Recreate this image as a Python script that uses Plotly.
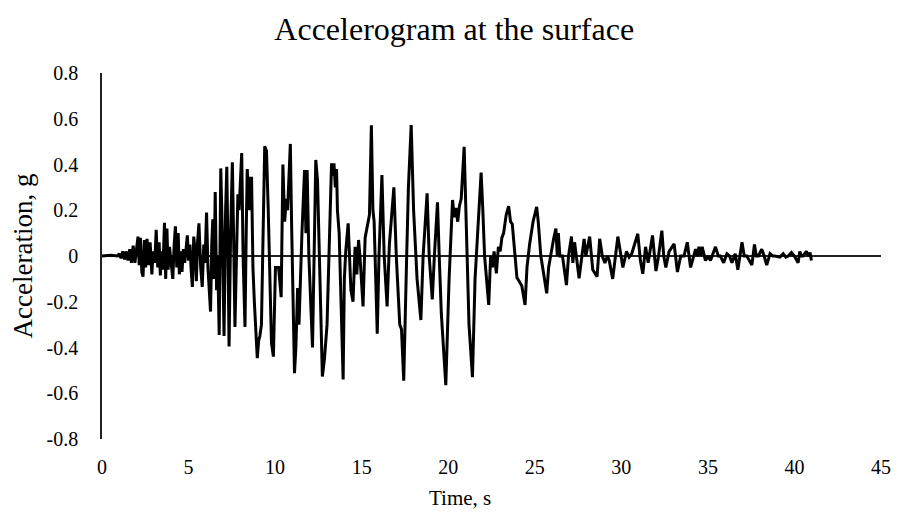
import plotly.graph_objects as go

# Surface acceleration record (time in s, acceleration in g)
time_s = [
    0.0, 0.5, 0.9, 1.0, 1.1, 1.2, 1.3, 1.4, 1.5, 1.6, 1.7, 1.8, 1.9, 2.0, 2.08, 2.15, 2.22, 2.3, 2.37, 2.45,
    2.52, 2.6, 2.7, 2.78, 2.88, 2.95, 3.05, 3.13, 3.22, 3.3, 3.37, 3.45, 3.52, 3.61, 3.68, 3.75, 3.82, 3.9,
    4.0, 4.09, 4.17, 4.24, 4.32, 4.4, 4.47, 4.55, 4.62, 4.7, 4.78, 4.86, 4.93, 5.0, 5.08, 5.15, 5.22, 5.3,
    5.38, 5.45, 5.52, 5.6, 5.7, 5.79, 5.88, 5.95, 6.04, 6.12, 6.2, 6.27, 6.34, 6.4, 6.47, 6.54, 6.62, 6.68,
    6.77, 6.86, 6.95, 7.05, 7.14, 7.21, 7.28, 7.34, 7.43, 7.53, 7.6, 7.68, 7.77, 7.85, 7.92, 8.07, 8.15,
    8.26, 8.33, 8.39, 8.5, 8.57, 8.64, 8.72, 8.8, 8.97, 9.05, 9.12, 9.21, 9.3, 9.4, 9.5, 9.6, 9.79, 9.9,
    10.02, 10.2, 10.35, 10.45, 10.55, 10.65, 10.72, 10.88, 10.95, 11.12, 11.2, 11.3, 11.38, 11.45, 11.55,
    11.7, 11.78, 11.85, 11.95, 12.16, 12.35, 12.45, 12.73, 12.85, 13.0, 13.26, 13.33, 13.4, 13.48, 13.55,
    13.6, 13.7, 13.8, 13.93, 14.0, 14.08, 14.22, 14.3, 14.38, 14.5, 14.62, 14.72, 14.82, 14.9, 15.08, 15.2,
    15.35, 15.45, 15.56, 15.65, 15.72, 15.9, 16.0, 16.17, 16.3, 16.47, 16.6, 16.86, 17.0, 17.2, 17.3, 17.43,
    17.6, 17.7, 17.86, 17.95, 18.0, 18.2, 18.42, 18.55, 18.78, 18.9, 19.08, 19.2, 19.38, 19.48, 19.6, 19.86,
    19.95, 20.05, 20.25, 20.35, 20.45, 20.55, 20.65, 20.75, 20.92, 21.05, 21.2, 21.4, 21.55, 21.7, 21.9,
    22.0, 22.1, 22.34, 22.45, 22.55, 22.65, 22.78, 22.9, 23.0, 23.1, 23.2, 23.35, 23.49, 23.6, 23.7, 23.85,
    23.97, 24.1, 24.25, 24.44, 24.55, 24.7, 24.9, 25.11, 25.2, 25.35, 25.5, 25.69, 25.8, 25.95, 26.1, 26.22,
    26.3, 26.36, 26.45, 26.6, 26.83, 26.95, 27.12, 27.2, 27.3, 27.56, 27.7, 27.85, 27.95, 28.17, 28.35,
    28.6, 28.75, 28.9, 29.05, 29.2, 29.3, 29.5, 29.8, 30.09, 30.3, 30.45, 30.6, 30.95, 31.1, 31.24, 31.4,
    31.55, 31.8, 32.0, 32.15, 32.34, 32.45, 32.57, 32.76, 33.05, 33.24, 33.43, 33.62, 33.81, 34.0, 34.29,
    34.4, 34.48, 34.58, 34.67, 34.86, 35.0, 35.15, 35.44, 35.6, 35.72, 35.91, 36.1, 36.25, 36.39, 36.58,
    36.73, 36.97, 37.1, 37.25, 37.54, 37.69, 37.8, 37.92, 38.11, 38.25, 38.4, 38.59, 38.75, 38.88, 39.16,
    39.35, 39.5, 39.64, 39.83, 40.0, 40.21, 40.31, 40.4, 40.5, 40.69, 40.8, 40.9, 40.98,
]

accel_g = [
    0.0, 0.003, 0.0, 0.01, -0.01, 0.02, -0.015, 0.02, -0.02, 0.03, -0.03, 0.045, -0.03, 0.03, 0.085, -0.04,
    0.08, -0.07, -0.09, 0.07, -0.05, 0.075, -0.04, 0.06, -0.08, 0.02, -0.03, 0.115, -0.05, 0.06, -0.085,
    0.02, -0.06, 0.145, -0.1, 0.12, -0.06, 0.04, -0.05, -0.1, 0.05, 0.13, -0.05, 0.1, -0.08, 0.02, -0.07,
    0.03, -0.03, 0.06, 0.09, -0.02, 0.05, -0.06, -0.135, 0.085, 0.02, -0.11, 0.06, 0.143, -0.05, -0.135,
    0.05, -0.03, 0.19, -0.05, -0.15, -0.243, 0.05, 0.16, -0.1, 0.28, -0.15, 0.0, -0.345, 0.383, 0.1, -0.35,
    0.2, 0.39, 0.0, -0.396, 0.1, 0.41, 0.1, -0.31, 0.0, 0.27, 0.2, 0.45, 0.0, -0.31, 0.1, 0.38, 0.2, 0.34,
    0.34, -0.05, -0.2, -0.447, -0.37, -0.35, -0.3, 0.1, 0.48, 0.46, 0.21, -0.38, -0.44, -0.05, -0.05, -0.18,
    0.4, 0.15, 0.25, 0.2, 0.49, 0.15, -0.512, -0.4, -0.14, -0.3, -0.1, 0.1, 0.376, 0.1, 0.376, 0.0, -0.4,
    0.42, 0.33, -0.527, -0.45, -0.3, 0.405, 0.35, 0.405, 0.3, 0.38, 0.2, 0.1, -0.2, -0.54, -0.1, 0.02,
    0.143, -0.05, -0.15, -0.2, 0.04, -0.08, 0.07, 0.0, -0.22, 0.08, 0.15, 0.18, 0.572, 0.2, 0.15, -0.34, 0.0,
    0.354, 0.0, -0.22, 0.05, 0.3, 0.0, -0.3, -0.32, -0.545, 0.0, 0.3, 0.572, 0.35, 0.2, -0.1, -0.28, 0.0,
    0.274, 0.0, -0.19, 0.0, 0.235, 0.0, -0.25, -0.565, -0.3, -0.1, 0.245, 0.17, 0.21, 0.15, 0.22, 0.25,
    0.477, 0.1, -0.3, -0.53, -0.1, 0.1, 0.365, 0.2, 0.0, -0.214, 0.0, -0.05, 0.02, -0.076, 0.04, 0.02, 0.08,
    0.1, 0.18, 0.218, 0.15, 0.14, 0.0, -0.095, -0.11, -0.13, -0.214, -0.05, 0.05, 0.15, 0.215, 0.15, 0.0,
    -0.08, -0.163, -0.05, 0.02, 0.08, 0.12, 0.0, 0.1, 0.0, 0.0, -0.127, 0.0, 0.085, -0.03, 0.06, -0.097, 0.0,
    0.075, 0.0, 0.085, -0.06, -0.09, 0.075, 0.0, -0.03, 0.0, -0.02, -0.1, 0.085, -0.05, 0.02, -0.005, 0.01,
    0.097, -0.02, -0.078, 0.04, -0.03, 0.09, -0.066, 0.0, 0.111, 0.0, -0.05, 0.02, 0.053, -0.07, 0.0, 0.0,
    0.06, -0.05, 0.03, 0.0, 0.04, 0.0, 0.04, -0.02, 0.0, -0.02, 0.04, 0.0, 0.0, -0.03, 0.01, 0.0, -0.03,
    0.01, -0.06, 0.06, 0.0, 0.0, -0.04, 0.05, 0.0, 0.0, 0.03, 0.0, -0.04, 0.01, 0.0, 0.0, -0.005, 0.01,
    -0.005, 0.0, 0.015, 0.0, -0.03, 0.02, 0.0, 0.0, 0.02, 0.0, 0.015, -0.02,
]

x_ticks = [0, 5, 10, 15, 20, 25, 30, 35, 40, 45]
y_ticks = [-0.8, -0.6, -0.4, -0.2, 0, 0.2, 0.4, 0.6, 0.8]
y_tick_text = ["-0.8", "-0.6", "-0.4", "-0.2", "0", "0.2", "0.4", "0.6", "0.8"]

FONT = "Liberation Serif, Times New Roman, serif"

fig = go.Figure(
    go.Scatter(
        x=time_s,
        y=accel_g,
        mode="lines",
        line=dict(color="black", width=3),
        hoverinfo="skip",
    )
)

fig.update_layout(
    width=903,
    height=527,
    paper_bgcolor="white",
    plot_bgcolor="white",
    margin=dict(l=102, r=14, t=73, b=88),
    showlegend=False,
    font=dict(family=FONT, color="black", size=20),
    title=dict(
        text="Accelerogram at the surface",
        x=0.503,
        xanchor="center",
        xref="container",
        y=0.945,
        yanchor="middle",
        yref="container",
        font=dict(family=FONT, size=32, color="black"),
    ),
    annotations=[
        dict(
            text="Time, s",
            xref="paper",
            yref="paper",
            x=0.46,
            y=-0.162,
            xanchor="center",
            yanchor="middle",
            showarrow=False,
            font=dict(family=FONT, size=21, color="black"),
        )
    ],
)

fig.update_xaxes(
    range=[0, 45],
    tickvals=x_ticks,
    showgrid=False,
    zeroline=False,
    showline=False,
    ticks="",
    ticklabelstandoff=14,
    tickfont=dict(family=FONT, size=20, color="black"),
)

fig.update_yaxes(
    range=[-0.8, 0.8],
    tickvals=y_ticks,
    ticktext=y_tick_text,
    showgrid=False,
    zeroline=True,
    zerolinecolor="#222222",
    zerolinewidth=1.6,
    showline=True,
    linecolor="#222222",
    linewidth=1.6,
    ticks="",
    ticklabelstandoff=18,
    tickfont=dict(family=FONT, size=20, color="black"),
    title=dict(text="Acceleration, g", font=dict(family=FONT, size=27, color="black"), standoff=6),
)

fig.write_html("out.html")
